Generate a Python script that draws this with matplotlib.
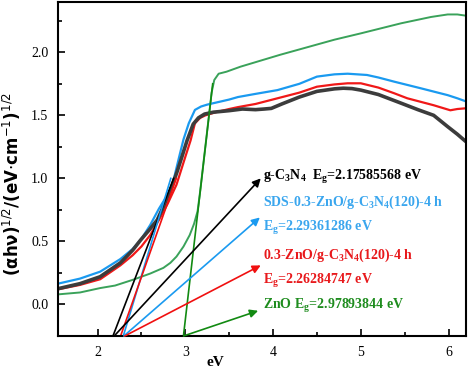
import matplotlib
matplotlib.use("Agg")
import matplotlib.pyplot as plt
import matplotlib.ticker as ticker
import numpy as np

# serif bold for the math parts of the annotations
plt.rcParams["mathtext.fontset"] = "custom"
plt.rcParams["mathtext.rm"] = "Liberation Serif:bold"
plt.rcParams["mathtext.bf"] = "Liberation Serif:bold"
plt.rcParams["mathtext.it"] = "Liberation Serif:bold"

# ---- data ----
gcn_ev = [1.55, 1.8, 2.03, 2.26, 2.4, 2.49, 2.6, 2.68, 2.76, 2.84, 2.91, 2.97,
          3.02, 3.09, 3.15, 3.22, 3.32, 3.5, 3.65, 3.8, 3.9, 3.98, 4.1, 4.3,
          4.5, 4.7, 4.8, 4.9, 5.0, 5.2, 5.46, 5.65, 5.83, 5.99, 6.1, 6.2]
gcn_val = [0.125, 0.165, 0.22, 0.33, 0.43, 0.51, 0.60, 0.67, 0.79, 0.92, 1.06, 1.19,
           1.30, 1.43, 1.48, 1.51, 1.525, 1.537, 1.55, 1.545, 1.55, 1.555, 1.59, 1.645,
           1.69, 1.71, 1.715, 1.712, 1.70, 1.665, 1.596, 1.545, 1.50, 1.41, 1.35, 1.29]

sds_ev = [1.55, 1.8, 2.03, 2.26, 2.4, 2.5, 2.6, 2.7, 2.78, 2.85, 2.93, 2.98,
          3.04, 3.11, 3.18, 3.25, 3.5, 3.6, 3.8, 4.05, 4.3, 4.5, 4.7, 4.85,
          5.07, 5.2, 5.38, 5.68, 5.99, 6.1, 6.2]
sds_val = [0.165, 0.205, 0.26, 0.36, 0.44, 0.52, 0.63, 0.76, 0.85, 0.94, 1.17, 1.31,
           1.437, 1.543, 1.57, 1.585, 1.625, 1.645, 1.67, 1.70, 1.75, 1.807, 1.825, 1.83,
           1.82, 1.80, 1.767, 1.715, 1.66, 1.635, 1.61]

zno_cn_ev = [1.55, 1.8, 2.03, 2.26, 2.4, 2.5, 2.6, 2.7, 2.8, 2.9, 3.0, 3.06,
             3.11, 3.17, 3.23, 3.35, 3.5, 3.6, 3.8, 4.05, 4.3, 4.5, 4.7, 4.85,
             5.0, 5.2, 5.38, 5.53, 5.83, 6.02, 6.1, 6.2]
zno_cn_val = [0.12, 0.155, 0.20, 0.31, 0.39, 0.46, 0.55, 0.67, 0.80, 0.95, 1.17, 1.30,
              1.437, 1.48, 1.50, 1.525, 1.55, 1.565, 1.59, 1.635, 1.68, 1.727, 1.745, 1.754,
              1.754, 1.72, 1.675, 1.635, 1.58, 1.54, 1.55, 1.556]

zno_ev = [1.55, 1.8, 2.03, 2.2, 2.4, 2.6, 2.75, 2.83, 2.9, 2.98, 3.05, 3.1,
          3.14, 3.17, 3.2, 3.25, 3.28, 3.30, 3.33, 3.38, 3.47, 3.63, 4.08, 4.7,
          5.0, 5.46, 5.8, 5.99, 6.1, 6.2]
zno_val = [0.08, 0.095, 0.13, 0.15, 0.195, 0.245, 0.29, 0.33, 0.38, 0.46, 0.55, 0.64,
           0.74, 0.90, 1.08, 1.38, 1.56, 1.68, 1.78, 1.83, 1.846, 1.886, 1.98, 2.10,
           2.15, 2.23, 2.28, 2.30, 2.30, 2.29]

band_gaps = [2.17585568, 2.29361286, 2.26284747, 2.97893844]
tangent_slopes = [1.81, 2.31, 1.97, 6.0]
tangent_tops = [1.0, 1.0, 1.0, 1.75]
arrow_starts = [2.19, 2.30, 2.31, 2.98]
arrow_tips_x = [3.86, 3.85, 3.86, 3.83]
arrow_tips_y = [1.00, 0.69, 0.31, -0.05]

label_texts = [
    r"g-C$_\mathbf{3}$N$_\mathbf{4}$  E$_\mathbf{g}$=2.17585568 eV",
    r"SDS-0.3-ZnO/g-C$_\mathbf{3}$N$_\mathbf{4}$(120)-4 h",
    r"E$_\mathbf{g}$=2.29361286 eV",
    r"0.3-ZnO/g-C$_\mathbf{3}$N$_\mathbf{4}$(120)-4 h",
    r"E$_\mathbf{g}$=2.26284747 eV",
    r"ZnO E$_\mathbf{g}$=2.97893844 eV",
]
label_y = [1.01, 0.81, 0.605, 0.39, 0.19, -0.016]

CURVE_COLORS = ["#3c3c3c", "#1a9af0", "#f01818", "#3aa25a"]
LINE_COLORS = ["#000000", "#1a9af0", "#f01010", "#128a12"]
LABEL_COLORS = ["#000000", "#3aa6ee", "#3aa6ee", "#e8191c", "#e8191c", "#1e8c1e"]
Y_MIN = -0.25

fig = plt.figure(figsize=(4.68, 3.68), dpi=100)
ax = fig.add_axes([0.124, 0.087, 0.872, 0.908])

ax.plot(zno_ev, zno_val, color=CURVE_COLORS[3], lw=1.4)
ax.plot(sds_ev, sds_val, color=CURVE_COLORS[1], lw=1.6)
ax.plot(zno_cn_ev, zno_cn_val, color=CURVE_COLORS[2], lw=1.6)
ax.plot(gcn_ev, gcn_val, color=CURVE_COLORS[0], lw=2.6)

# tangent lines down to the baseline + arrows to the labels
for eg, k, top, x0, tx, ty, c in zip(band_gaps, tangent_slopes, tangent_tops,
                                     arrow_starts, arrow_tips_x, arrow_tips_y,
                                     LINE_COLORS):
    ax.plot([eg, eg + (top - Y_MIN) / k], [Y_MIN, top], color=c, lw=1.2)
    ax.annotate("", xy=(tx, ty), xytext=(x0, Y_MIN),
                arrowprops=dict(arrowstyle="-|>", color=c, lw=1.2,
                                mutation_scale=12, shrinkA=0, shrinkB=0))

for txt, y, c in zip(label_texts, label_y, LABEL_COLORS):
    ax.text(3.89, y, txt, color=c, fontsize=10, fontweight="bold",
            family="Liberation Serif", va="center", ha="left",
            math_fontfamily="custom")

ax.set_xlim(1.55, 6.2)
ax.set_ylim(Y_MIN, 2.4)
ax.xaxis.set_major_locator(ticker.MultipleLocator(1))
ax.xaxis.set_minor_locator(ticker.MultipleLocator(0.5))
ax.yaxis.set_major_locator(ticker.MultipleLocator(0.5))
ax.yaxis.set_minor_locator(ticker.MultipleLocator(0.25))
ax.yaxis.set_major_formatter(ticker.FormatStrFormatter("%.1f"))
ax.tick_params(which="both", direction="in", width=1.2)
ax.tick_params(which="major", length=5, pad=7)
ax.tick_params(which="minor", length=3)
for lab in ax.get_xticklabels() + ax.get_yticklabels():
    lab.set_fontfamily("Liberation Serif")
    lab.set_fontsize(10)
for s in ax.spines.values():
    s.set_linewidth(1.5)

ax.set_xlabel("eV", fontsize=11, fontweight="bold", family="Liberation Serif")
ax.xaxis.set_label_coords(0.385, -0.06)
ax.set_ylabel(r"$\mathbf{(\alpha h\nu)}^{1/2}$/(eV$\cdot$cm$^{-1}$)$^{1/2}$",
              fontsize=12, fontweight="bold", math_fontfamily="dejavusans")
ax.yaxis.set_label_coords(-0.085, 0.455)

fig.savefig("out.png", dpi=100)
